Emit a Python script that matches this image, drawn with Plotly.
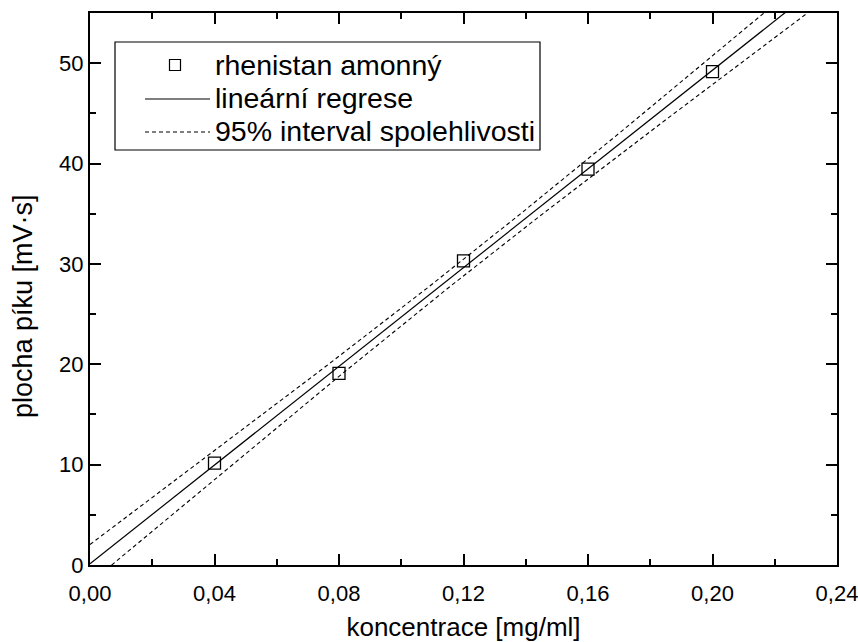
import numpy as np
import plotly.graph_objects as go

# Data
conc = [0.04, 0.08, 0.12, 0.16, 0.20]          # mg/ml
area = [10.15, 19.1, 30.3, 39.45, 49.15]        # mV·s
x_ticks = [0.00, 0.04, 0.08, 0.12, 0.16, 0.20, 0.24]
x_tick_labels = ["0,00", "0,04", "0,08", "0,12", "0,16", "0,20", "0,24"]
y_ticks = [0, 10, 20, 30, 40, 50]
legend_labels = ["rhenistan amonný", "lineární regrese", "95% interval spolehlivosti"]
x_title = "koncentrace [mg/ml]"
y_title = "plocha píku [mV·s]"
t_975_df3 = 3.182

# Linear regression + 95% confidence band computed from the data
x = np.array(conc)
y = np.array(area)
n = len(x)
slope, intercept = np.polyfit(x, y, 1)
resid = y - (slope * x + intercept)
s = np.sqrt(np.sum(resid ** 2) / (n - 2))
sxx = np.sum((x - x.mean()) ** 2)
xf = np.linspace(0.0, 0.24, 121)
yf = slope * xf + intercept
half = t_975_df3 * s * np.sqrt(1.0 / n + (xf - x.mean()) ** 2 / sxx)

font_family = "Liberation Sans, Arial, sans-serif"
W, H = 858, 642
L, R, T, B = 90, 21, 13, 77
PW, PH = W - L - R, H - T - B


def px(xpix):
    return (xpix - L) / PW


def py(ypix):
    return (H - B - ypix) / PH


fig = go.Figure()
fig.add_trace(go.Scatter(
    x=conc, y=area, mode="markers", name=legend_labels[0], showlegend=False,
    marker=dict(symbol="square-open", size=12, color="black", line=dict(width=1.3)),
))
fig.add_trace(go.Scatter(
    x=xf, y=yf, mode="lines", name=legend_labels[1], showlegend=False,
    line=dict(color="black", width=1.2),
))
fig.add_trace(go.Scatter(
    x=xf, y=yf + half, mode="lines", name=legend_labels[2], showlegend=False,
    line=dict(color="black", width=1.1, dash="4px,3px"),
))
fig.add_trace(go.Scatter(
    x=xf, y=yf - half, mode="lines", showlegend=False,
    line=dict(color="black", width=1.1, dash="4px,3px"),
))

# Manual legend (Origin style)
shapes = [
    dict(type="rect", xref="paper", yref="paper",
         x0=px(115), x1=px(540), y0=py(150), y1=py(42),
         line=dict(color="black", width=1.2), fillcolor="white", layer="above"),
    dict(type="rect", xref="paper", yref="paper",
         x0=px(169.5), x1=px(180.5), y0=py(70.5), y1=py(59.5),
         line=dict(color="black", width=1.2), fillcolor="rgba(0,0,0,0)", layer="above"),
    dict(type="line", xref="paper", yref="paper",
         x0=px(145), x1=px(210), y0=py(99), y1=py(99),
         line=dict(color="black", width=1.2), layer="above"),
    dict(type="line", xref="paper", yref="paper",
         x0=px(145), x1=px(210), y0=py(132), y1=py(132),
         line=dict(color="black", width=1.1, dash="4px,3px"), layer="above"),
]
annotations = []
for label, ypix in zip(legend_labels, [65, 98, 131]):
    annotations.append(dict(
        text=label, xref="paper", yref="paper", x=px(213), y=py(ypix),
        xanchor="left", yanchor="middle", showarrow=False,
        font=dict(family=font_family, size=28.5, color="black"),
    ))
# y axis title (placed like the original, slightly below centre)
annotations.append(dict(
    text=y_title, xref="paper", yref="paper", x=px(23), y=py(306),
    xanchor="center", yanchor="middle", textangle=-90, showarrow=False,
    font=dict(family=font_family, size=27, color="black"),
))

axis_common = dict(
    showline=True, linecolor="black", linewidth=2, mirror="ticks",
    ticks="inside", ticklen=11, tickwidth=2, tickcolor="black",
    showgrid=False, zeroline=False, automargin=False,
    ticklabeloverflow="allow",
    tickfont=dict(family=font_family, size=22, color="black"),
)

fig.update_layout(
    width=W, height=H,
    margin=dict(l=L, r=R, t=T, b=B),
    paper_bgcolor="white", plot_bgcolor="white",
    font=dict(family=font_family, color="black"),
    showlegend=False,
    shapes=shapes, annotations=annotations,
    xaxis=dict(
        range=[0, 0.24], tickvals=x_ticks, ticktext=x_tick_labels,
        ticklabelstandoff=8,
        minor=dict(ticks="inside", ticklen=6, tickwidth=2, tickcolor="black", dtick=0.02, tick0=0),
        title=dict(text=x_title, font=dict(family=font_family, size=26), standoff=12),
        **axis_common,
    ),
    yaxis=dict(
        range=[0, 55], tickvals=y_ticks,
        minor=dict(ticks="inside", ticklen=6, tickwidth=2, tickcolor="black", dtick=5, tick0=0),
        **axis_common,
    ),
)

fig.write_html("out.html")
